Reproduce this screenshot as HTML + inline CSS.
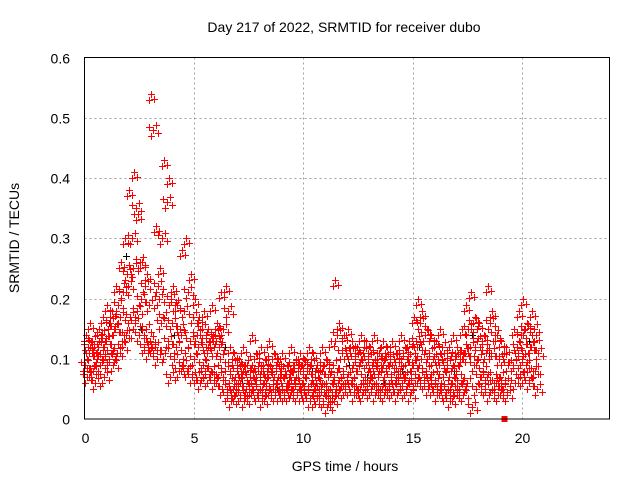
<!DOCTYPE html>
<html><head><meta charset="utf-8"><style>
body{margin:0;background:#fff}
svg{display:block;font-family:"Liberation Sans",sans-serif}
</style></head><body>
<svg id="chart" width="640" height="480" viewBox="0 0 640 480">
<text x="344" y="32" font-size="14" text-anchor="middle">Day 217 of 2022, SRMTID for receiver dubo</text>
<text x="345" y="471" font-size="14" text-anchor="middle">GPS time / hours</text>
<text transform="translate(19,238) rotate(-90)" font-size="14" text-anchor="middle">SRMTID / TECUs</text>
<g id="grid"></g>
<g id="marks"></g>
<rect x="84.5" y="57.5" width="525" height="361.5" fill="none" stroke="#000" stroke-width="1"/>
<g id="ticks"></g>
</svg>
<script>
const xTicks=[0,5,10,15,20];
const yTicks=[0,0.1,0.2,0.3,0.4,0.5,0.6];
const yTickLabels=["0","0.1","0.2","0.3","0.4","0.5","0.6"];
const tStart=0, tStep=0.2;
const seriesA=[.09,.11,.08,.12,.10,.13,.11,.15,.17,.14,.22,.25,.18,.20,.15,.13,.12,.20,.17,.13,.16,.12,.14,.11,.13,.10,.12,.09,.11,.08,.13,.10,.08,.06,.05,.06,.07,.05,.06,.08,.05,.06,.07,.05,.06,.06,.05,.07,.06,.05,.06,.05,.04,.06,.05,.04,.05,.07,.06,.08,.07,.06,.08,.05,.07,.06,.08,.07,.05,.08,.07,.06,.08,.07,.06,.09,.12,.10,.08,.07,.06,.09,.07,.05,.06,.08,.06,.11,.12,.09,.10,.08,.07,.11,.06,.07,.06,null,.09,.11,.10,.09,.12,.08];
const seriesB=[.14,.16,.12,.15,.17,.19,.18,.22,.26,.30,.38,.41,.34,.26,.24,.54,.32,.25,.43,.40,.22,.19,.28,.30,.24,.20,.17,.18,.15,.19,.16,.21,.22,.12,.11,.10,.12,.09,.14,.11,.12,.10,.13,.11,.10,.11,.09,.12,.10,.11,.10,.12,.11,.09,.12,.10,.13,.23,.16,.14,.15,.13,.12,.14,.13,.12,.14,.11,.13,.12,.13,.11,.14,.12,.13,.17,.20,.18,.15,.14,.13,.15,.11,.12,.14,.12,.15,.19,.21,.17,.16,.14,.22,.18,.14,.13,.12,null,.15,.18,.20,.16,.18,.14];
const seriesC=[.07,.08,.06,.09,.07,.10,.09,.11,.12,.14,.17,.16,.14,.12,.11,.12,.10,.16,.11,.07,.10,.08,.09,.08,.07,.07,.06,.08,.07,.06,.07,.05,.04,.03,.04,.04,.03,.04,.05,.04,.03,.04,.05,.04,.04,.04,.04,.05,.04,.04,.04,.03,.03,.05,.03,.02,.03,.04,.05,.05,.05,.04,.05,.04,.06,.05,.04,.05,.04,.05,.05,.04,.06,.05,.04,.06,.07,.06,.05,.05,.04,.05,.04,.03,.04,.05,.04,.06,.02,.05,.07,.05,.04,.06,.04,.05,.04,null,.06,.07,.07,.06,.08,.05];
const seriesD=[.12,.13,.10,.14,.13,.16,.15,.19,.21,.24,.30,.35,.26,.22,.19,.48,.22,.30,.36,.20,.19,.15,.18,.21,.17,.14,.15,.12,.13,.14,.12,.15,.18,.09,.08,.08,.09,.07,.10,.08,.09,.08,.10,.08,.08,.08,.07,.09,.08,.09,.08,.09,.07,.08,.09,.07,.09,.14,.11,.11,.11,.10,.09,.11,.10,.09,.11,.09,.10,.10,.10,.08,.11,.10,.09,.13,.16,.14,.11,.10,.10,.12,.09,.08,.10,.10,.11,.15,.16,.13,.13,.11,.16,.14,.10,.10,.09,null,.12,.14,.15,.12,.15,.11];
const blackTimes=[0.3,1.1,1.9,2.6,3.3,4.1,4.9,5.7,6.4,7.2,8.0,8.8,9.6,10.4,11.3,12.1,12.9,13.7,14.5,15.3,16.1,16.9,17.7,18.5,19.6,20.3];
const blackVals=[.08,.16,.27,.15,.10,.14,.09,.07,.12,.06,.07,.05,.06,.08,.04,.09,.07,.06,.08,.12,.05,.08,.14,.11,.09,.13];
const squareT=[19.2], squareV=[0];

const X0=84.5,X1=609.5,Y0=419,Y1=57.5,XMAX=24,YMAX=0.6;
const xs=t=>X0+t/XMAX*(X1-X0);
const ys=v=>Y0-v/YMAX*(Y0-Y1);
const NS="http://www.w3.org/2000/svg";
const grid=document.getElementById('grid'),marks=document.getElementById('marks'),ticks=document.getElementById('ticks');
function mk(tag,attrs,parent){const e=document.createElementNS(NS,tag);for(const k in attrs)e.setAttribute(k,attrs[k]);parent.appendChild(e);return e;}
xTicks.forEach(t=>{const x=Math.round(xs(t))+0.5;
 if(t>0){const g=mk('line',{x1:x,x2:x,y1:Y1,y2:Y0,stroke:'#a0a0a0','stroke-dasharray':'2,3'},grid);
 
 }
 const tl=mk('text',{x:x,y:443,'font-size':14,'text-anchor':'middle'},ticks);tl.textContent=t;
 
 
});
yTicks.forEach((v,i)=>{const y=Math.round(ys(v))+0.5;
 if(v>0&&v<YMAX){const g=mk('line',{x1:X0,x2:X1,y1:y,y2:y,stroke:'#a0a0a0','stroke-dasharray':'2,3'},grid);
 
 }
 const tl=mk('text',{x:70,y:y+5,'font-size':14,'text-anchor':'end'},ticks);tl.textContent=yTickLabels[i];
 
 
});
// marker cluster pattern in pixels (styling, not data)
const cluster=[[0,0],[3,-5],[-2,6],[5,3],[-4,-3]];
function plus(t,v,color,dx,dy){const x=Math.round(xs(t)+dx)+0.5,y=Math.round(ys(v)+dy)+0.5;
 if(y>Y0) return;
 const p=mk('path',{d:`M${x-3.5} ${y}H${x+3.5}M${x} ${y-3.5}V${y+3.5}`,stroke:color,'stroke-width':1,fill:'none'},marks);
 
 
}
blackTimes.forEach((t,i)=>plus(t,blackVals[i],'#000',0,0));
[[seriesA,0],[seriesB,0.05],[seriesC,0.1],[seriesD,0.15]].forEach(([arr,off])=>{
 arr.forEach((v,i)=>{if(v!==null)cluster.forEach(([dx,dy],k)=>{ if(k>0 && arr===seriesB) {if(k>2)return; dy=Math.abs(dy);} plus(tStart+i*tStep+off,v,'#ff0000',dx,dy);});});
});
squareT.forEach((t,i)=>{const r=mk('rect',{x:xs(t)-3,y:ys(squareV[i])-3,width:6,height:6,fill:'#ff0000'},marks);
 
 });
</script>
</body></html>
